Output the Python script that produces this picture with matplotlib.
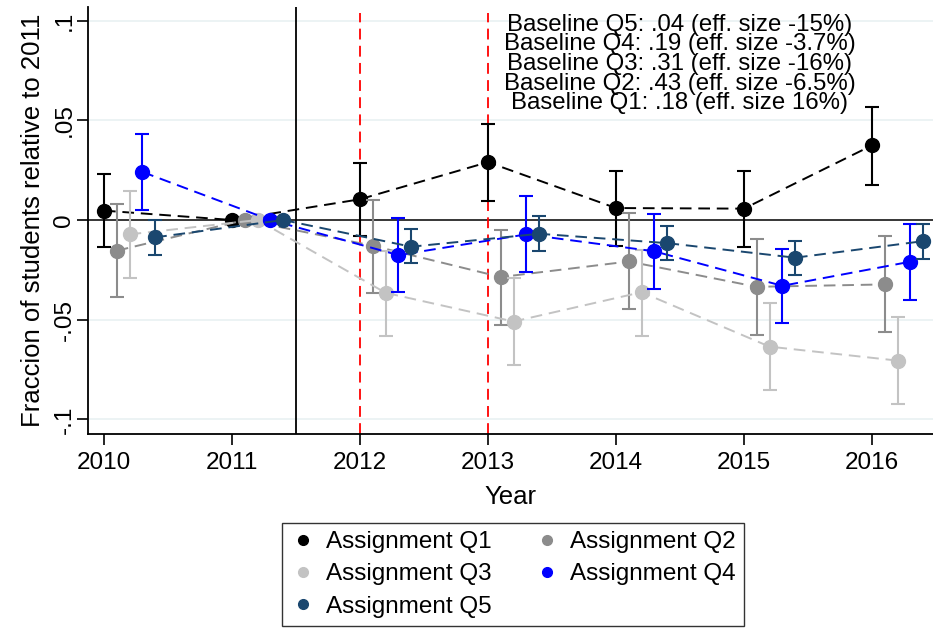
import numpy as np
import matplotlib
matplotlib.use('Agg')
import matplotlib.pyplot as plt
from matplotlib.lines import Line2D

plt.rcParams['font.family'] = ['Liberation Sans', 'DejaVu Sans']

nan = np.nan
years = np.array([2010, 2011, 2012, 2013, 2014, 2015, 2016])

q1 = [0.0047, 0, 0.0104, 0.029, 0.006, 0.0057, 0.0374]
q1_lo = [-0.0137, nan, -0.008, 0.0097, -0.0129, -0.0134, 0.0178]
q1_hi = [0.023, nan, 0.0286, 0.0479, 0.0248, 0.0245, 0.0568]

q2 = [-0.0154, 0, -0.0129, -0.0286, -0.0208, -0.0335, -0.0323]
q2_lo = [-0.0387, nan, -0.0368, -0.0524, -0.0447, -0.0576, -0.0564]
q2_hi = [0.0082, nan, 0.010, -0.005, 0.0035, -0.0095, -0.008]

q3 = [-0.0072, 0, -0.0365, -0.0509, -0.0362, -0.0635, -0.0705]
q3_lo = [-0.029, nan, -0.058, -0.0727, -0.0581, -0.0853, -0.0925]
q3_hi = [0.0147, nan, -0.0155, -0.029, -0.015, -0.0417, -0.0486]

q4 = [0.0241, 0, -0.0176, -0.0072, -0.0157, -0.033, -0.0209]
q4_lo = [0.005, nan, -0.036, -0.0261, -0.0345, -0.0516, -0.0399]
q4_hi = [0.0432, nan, 0.0008, 0.0119, 0.0032, -0.0144, -0.0018]

q5 = [-0.0087, 0, -0.0134, -0.0069, -0.0116, -0.0189, -0.0106]
q5_lo = [-0.0174, nan, -0.0218, -0.0156, -0.0201, -0.0275, -0.0194]
q5_hi = [0.0, nan, -0.0047, 0.002, -0.003, -0.0107, -0.002]

labels = ['Assignment Q1', 'Assignment Q2', 'Assignment Q3',
          'Assignment Q4', 'Assignment Q5']
baseline_notes = ['Baseline Q5: .04 (eff. size -15%)',
                  'Baseline Q4: .19 (eff. size -3.7%)',
                  'Baseline Q3: .31 (eff. size -16%)',
                  'Baseline Q2: .43 (eff. size -6.5%)',
                  'Baseline Q1: .18 (eff. size 16%)']

series = [(q1, q1_lo, q1_hi), (q2, q2_lo, q2_hi), (q3, q3_lo, q3_hi),
          (q4, q4_lo, q4_hi), (q5, q5_lo, q5_hi)]
colors = ['#000000', '#8c8c8c', '#c3c3c3', '#0000ff', '#1a476f']
offsets = [0.0, 0.1, 0.2, 0.3, 0.4]

fig = plt.figure(figsize=(9.33, 6.32), dpi=100)
ax = fig.add_axes([0.0943, 0.3133, 0.9057, 0.6756])

# reference lines
for yv in [-0.1, -0.05, 0.05, 0.1]:
    ax.axhline(yv, color='#eaf2f3', lw=1.3, zorder=0)
ax.axhline(0, color='black', lw=1.1, zorder=1)
ax.axvline(2011.5, color='black', lw=1.3, zorder=1)
for xv in [2012, 2013]:
    ax.axvline(xv, color='red', lw=1.3, ls=(0, (6, 3.5)), ymax=0.985, zorder=1)

handles = []
for i, ((mid, lo, hi), c, off) in enumerate(zip(series, colors, offsets)):
    x = years + off
    mid = np.array(mid)
    lo = np.array(lo)
    hi = np.array(hi)
    err = np.vstack([mid - lo, hi - mid])
    ax.errorbar(x, mid, yerr=err, fmt='none', ecolor=c, elinewidth=1.5,
                capsize=4.7, capthick=1.5, zorder=2 + i)
    ax.plot(x, mid, color=c, lw=1.4, ls=(0, (6, 3.5)), zorder=2 + i)
    ax.plot(x, mid, 'o', color=c, ms=10, zorder=2.5 + i)
    handles.append(Line2D([], [], marker='o', color=c, ls='none', ms=7))

# baseline means and effect sizes, stacked in one centred block
ax.text(2014.5, 0.0782, '\n'.join(baseline_notes), ha='center', va='center',
        multialignment='center', linespacing=0.86, fontsize=17.3, zorder=10)

ax.set_xlim(2009.875, 2016.477)
ax.set_ylim(-0.1073, 0.1068)
ax.set_xticks(years)
ax.set_yticks([-0.1, -0.05, 0, 0.05, 0.1])
ax.set_yticklabels(['-.1', '-.05', '0', '.05', '.1'], rotation=90, va='center')
ax.tick_params(axis='both', labelsize=17.5, length=8, width=1.2)
ax.tick_params(axis='y', pad=1)
ax.tick_params(axis='x', pad=5)
for s in ['top', 'right']:
    ax.spines[s].set_visible(False)
for s in ['left', 'bottom']:
    ax.spines[s].set_linewidth(1.3)

ax.set_xlabel('Year', fontsize=18.5, labelpad=8)
ax.set_ylabel('Fraccion of students relative to 2011', fontsize=18.5, labelpad=6)

# legend fills columns first, so reorder to get Q1 Q2 / Q3 Q4 / Q5
order = [0, 2, 4, 1, 3]
leg = fig.legend([handles[j] for j in order], [labels[j] for j in order],
                 ncol=2, loc='upper center', bbox_to_anchor=(0.55, 0.173),
                 fontsize=17.5, frameon=True, fancybox=False,
                 edgecolor='black', borderpad=0.35, handletextpad=0.45,
                 columnspacing=1.8, labelspacing=0.42, handlelength=1.0,
                 borderaxespad=0)
leg.get_frame().set_linewidth(1.0)

fig.savefig('out.png', dpi=100)
